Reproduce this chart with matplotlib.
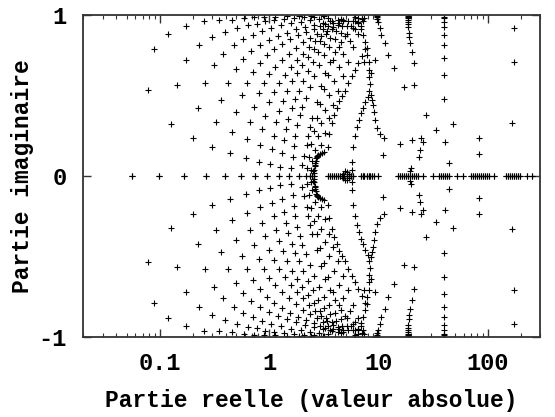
import numpy as np
import matplotlib
matplotlib.use("Agg")
import matplotlib.pyplot as plt
from matplotlib.ticker import LogLocator, NullFormatter

# Valeurs propres : partie reelle (valeur absolue) et partie imaginaire normalisee.
# Seule la moitie superieure est listee, les valeurs conjuguees sont tracees en miroir.

ARC1_RE = [0.0556, 0.0778, 0.0887, 0.120, 0.173, 0.254, 0.349, 0.461, 0.593, 0.731, 0.901, 1.13, 1.46, 1.87, 2.41, 3.09]
ARC1_IM = [0, .532, .791, .884, .932, .961, .966, .972, .981, .986, .988, .990, .992, .994, .995, .997]

ARC2_RE = [0.0986, 0.127, 0.144, 0.173, 0.230, 0.303, 0.393, 0.512, 0.640, 0.778, 0.920, 1.11, 1.37, 1.69, 2.08, 2.56, 3.16]
ARC2_IM = [0, .323, .563, .720, .812, .863, .894, .919, .936, .946, .961, .968, .975, .980, .985, .988, .992]

ARC3_RE = [0.168, 0.200, 0.222, 0.258, 0.314, 0.382, 0.478, 0.577, 0.711, 0.864, 1.04, 1.29, 1.58, 1.95, 2.36, 2.85, 3.44]
ARC3_IM = [0, .234, .425, .578, .688, .760, .812, .853, .878, .899, .920, .935, .948, .958, .967, .975, .982]

ARC4_RE = [0.267, 0.303, 0.325, 0.366, 0.421, 0.494, 0.581, 0.690, 0.834, 1.0, 1.21, 1.46, 1.76, 2.12, 2.56, 3.09, 3.74, 4.51]
ARC4_IM = [0, .182, .337, .472, .580, .663, .729, .775, .812, .845, .870, .890, .910, .925, .940, .953, .965, .975]

ARC5_RE = [0.396, 0.435, 0.461, 0.501, 0.560, 0.631, 0.716, 0.834, 0.959, 1.11, 1.31, 1.55, 1.84, 2.17, 2.56, 2.91, 3.23, 3.59]
ARC5_IM = [0, .141, .275, .396, .500, .580, .646, .704, .750, .790, .820, .850, .875, .895, .915, .930, .945, .960]

ARC6_RE = [0.551, 0.609, 0.631, 0.668, 0.726, 0.806, 0.895, 1.0, 1.13, 1.31, 1.52, 1.76, 2.04, 2.36, 2.73, 3.10, 3.44, 3.81, 4.24]
ARC6_IM = [0, .114, .230, .337, .430, .516, .580, .635, .680, .720, .760, .795, .830, .860, .885, .910, .930, .950, .970]

ARC7_RE = [0.738, 0.806, 0.834, 0.864, 0.925, 0.994, 1.10, 1.23, 1.40, 1.58, 1.80, 2.04, 2.31, 2.62, 2.97, 3.37, 3.81, 4.32, 4.79]
ARC7_IM = [0, .089, .193, .290, .375, .458, .520, .580, .630, .680, .720, .760, .800, .840, .870, .900, .925, .950, .970]

ARC8_RE = [0.959, 1.03, 1.065, 1.10, 1.16, 1.24, 1.34, 1.46, 1.62, 1.80, 2.0, 2.26, 2.56, 2.90, 3.30, 3.74, 4.24, 4.79]
ARC8_IM = [0, .073, .168, .250, .334, .404, .468, .530, .590, .640, .690, .740, .790, .840, .880, .910, .940, .960]

ARC9_RE = [1.22, 1.27, 1.31, 1.36, 1.43, 1.49, 1.62, 1.73, 1.87, 2.04, 2.26, 2.51, 2.79, 3.16, 3.59, 4.06, 4.61, 5.23]
ARC9_IM = [0, .058, .140, .224, .291, .354, .425, .478, .530, .590, .650, .710, .770, .820, .860, .900, .930, .960]

ARC10_RE = [1.53, 1.60, 1.64, 1.70, 1.74, 1.80, 1.93, 2.02, 2.17, 2.36, 2.56, 2.85, 3.16, 3.51, 3.98, 4.51, 5.12, 5.80]
ARC10_IM = [0, .052, .120, .186, .250, .317, .376, .430, .484, .550, .620, .690, .750, .800, .850, .890, .930, .960]

ARC11_RE = [1.89, 2.0, 2.09, 2.21, 2.28, 2.37, 2.49, 2.73, 2.97, 3.23, 3.59, 3.98, 4.51, 5.12, 5.80, 6.44]
ARC11_IM = [0, .068, .124, .190, .250, .306, .363, .460, .560, .640, .710, .770, .830, .880, .920, .950]

ARC12_RE = [2.17, 2.24, 2.31, 2.41, 2.56, 2.73, 2.91, 3.16, 3.44, 3.82, 4.33, 4.91, 5.56, 6.05, 6.57]
ARC12_IM = [0, .05, .12, .20, .28, .36, .45, .54, .63, .72, .80, .87, .93, .96, .98]

ARC13_RE = [2.36, 2.41, 2.48, 2.62, 2.79, 3.0, 3.23, 3.51, 3.90, 4.32, 4.79, 5.45, 6.05, 6.57, 7.0]
ARC13_IM = [0, .04, .09, .16, .25, .33, .41, .50, .59, .68, .76, .84, .91, .95, .975]

ARC14_RE = [2.48, 2.54, 2.62, 2.76, 2.97, 3.23, 3.51, 3.81, 4.24, 4.70, 5.23, 5.80, 6.44, 6.86, 7.15, 7.45]
ARC14_IM = [0, .03, .07, .12, .19, .27, .36, .44, .53, .62, .71, .80, .88, .93, .96, .98]

# branche exterieure, en forme de parenthese autour de Re = 2.6
OUTER_RE = [2.55, 2.56, 2.58, 2.61, 2.63, 2.66, 2.69, 2.76, 2.83, 2.93, 3.03, 3.21, 3.44, 3.56,
            3.74, 3.94, 4.15, 4.36, 4.61, 4.94, 5.30, 5.68, 6.09, 6.54, 7.0, 7.5]
OUTER_IM = [0, .02, .04, .06, .079, .095, .11, .122, .13, .138, .145, .15, .182, .26,
            .327, .379, .424, .466, .497, .53, .58, .62, .656, .70, .745, .79]

# croisement vers Re = 8
CROSS_TOP_RE = [6.09, 6.54, 6.91, 7.26, 7.5, 7.78, 7.94, 8.11, 8.19, 8.28, 8.33]
CROSS_TOP_IM = [.988, .957, .915, .874, .832, .795, .752, .708, .658, .615, .573]

CROSS_LOW_RE = [5.68, 5.77, 5.89, 6.09, 6.40, 6.68, 6.91, 7.15, 7.5, 8.06, 8.19]
CROSS_LOW_IM = [.04, .089, .182, .25, .302, .348, .389, .42, .458, .493, .53]

CROSS_RIGHT_RE = [8.51, 8.77, 8.95, 9.14, 9.39, 9.73, 10.3, 11.3, 11.0, 8.51, 9.25, 7.35]
CROSS_RIGHT_IM = [.503, .472, .441, .396, .348, .296, .259, .234, .13, .642, .72, .71]

COL10_RE = [9.59, 9.62, 9.66, 9.72, 9.93, 10.3, 10.6, 11.4, 12.3, 13.8, 17.3, 21.1]
COL10_IM = [.998, .995, .985, .975, .958, .917, .876, .824, .752, .672, .555, .565]

COL18_RE = [18.5, 18.5, 18.5, 18.5, 18.5, 18.6, 18.7, 18.9, 19.2, 19.6, 20.3, 21.2, 19.6, 19.9]
COL18_IM = [.995, .99, .98, .97, .958, .945, .927, .886, .865, .824, .772, .70, .03, .05]

COL40_RE = [40.1, 40.1, 40.1, 40.1, 40.1, 40.1, 40.1, 40.1, 40.1, 40.9, 44.4]
COL40_IM = [.99, .98, .958, .927, .876, .814, .735, .627, .478, .209, .079]

SPARSE_RE = [27.3, 33.7, 47.8, 24.6, 25.5, 24.1, 23.7, 20.4, 15.9, 82.3, 82.3, 165, 173, 173]
SPARSE_IM = [.379, .286, .321, .234, .213, .161, .12, .224, .199, .234, .135, .327, .706, .917]

LOOP_RE = [4.70, 4.90, 5.12, 5.33]
LOOP_IM = [.015, .028, .025, .012]

# valeurs propres reelles
REAL_RE = [3.49, 3.62, 3.74, 3.90, 4.06, 4.24, 4.42, 4.61, 4.81, 5.12, 5.33, 5.56, 5.80,
           6.86, 7.15, 7.45, 7.78, 8.11, 8.45, 8.81, 9.19, 9.93,
           15.2, 15.9, 16.5, 17.2, 17.9, 18.7, 19.5, 20.4, 21.2, 22.2, 23.1, 25.5, 31.3,
           35.8, 37.3, 38.9, 40.6, 42.4, 44.3, 52.7, 58.7,
           70.0, 73.0, 76.2, 79.5, 82.9, 86.5, 90.2, 94.1, 98.1, 102, 113,
           146, 152, 159, 166, 173, 180, 188, 196, 230, 255]

BRANCHES = [
    (ARC1_RE, ARC1_IM), (ARC2_RE, ARC2_IM), (ARC3_RE, ARC3_IM), (ARC4_RE, ARC4_IM),
    (ARC5_RE, ARC5_IM), (ARC6_RE, ARC6_IM), (ARC7_RE, ARC7_IM), (ARC8_RE, ARC8_IM),
    (ARC9_RE, ARC9_IM), (ARC10_RE, ARC10_IM), (ARC11_RE, ARC11_IM), (ARC12_RE, ARC12_IM),
    (ARC13_RE, ARC13_IM), (ARC14_RE, ARC14_IM), (OUTER_RE, OUTER_IM),
    (CROSS_TOP_RE, CROSS_TOP_IM), (CROSS_LOW_RE, CROSS_LOW_IM), (CROSS_RIGHT_RE, CROSS_RIGHT_IM),
    (COL10_RE, COL10_IM), (COL18_RE, COL18_IM), (COL40_RE, COL40_IM),
    (SPARSE_RE, SPARSE_IM), (LOOP_RE, LOOP_IM), (REAL_RE, [0] * len(REAL_RE)),
]

TICK_FONT = dict(family="Liberation Mono", weight="bold", size=17)
LABEL_FONT = dict(family="Liberation Mono", weight="bold", size=16.5)

fig = plt.figure(figsize=(5.55, 4.17), dpi=100)
ax = fig.add_axes([0.150, 0.192, 0.823, 0.772])

for re, im in BRANCHES:
    re = np.asarray(re, dtype=float)
    im = np.asarray(im, dtype=float)
    ax.plot(np.concatenate([re, re]), np.concatenate([im, -im]),
            linestyle="none", marker="+", color="black", ms=5, mew=0.8)

ax.set_xscale("log")
ax.set_xlim(0.02, 300)
ax.set_ylim(-1, 1)

ax.set_xticks([0.1, 1, 10, 100])
ax.set_xticklabels(["0.1", "1", "10", "100"], fontdict=TICK_FONT)
ax.xaxis.set_minor_locator(LogLocator(base=10, subs=np.arange(2, 10)))
ax.xaxis.set_minor_formatter(NullFormatter())
ax.set_yticks([-1, 0, 1])
ax.set_yticklabels(["-1", "0", "1"], fontdict=TICK_FONT)

ax.tick_params(which="both", direction="in", top=True, right=True, color="#333333")
ax.tick_params(which="major", length=6, width=1, pad=11)
ax.tick_params(which="minor", length=3, width=0.8)
ax.tick_params(axis="y", pad=12)

for s in ax.spines.values():
    s.set_linewidth(1.3)
    s.set_color("#333333")

ax.set_xlabel("Partie reelle (valeur absolue)", fontdict=LABEL_FONT, labelpad=10)
ax.set_ylabel("Partie imaginaire", fontdict=LABEL_FONT, labelpad=3)

fig.savefig("out.png", dpi=100)
